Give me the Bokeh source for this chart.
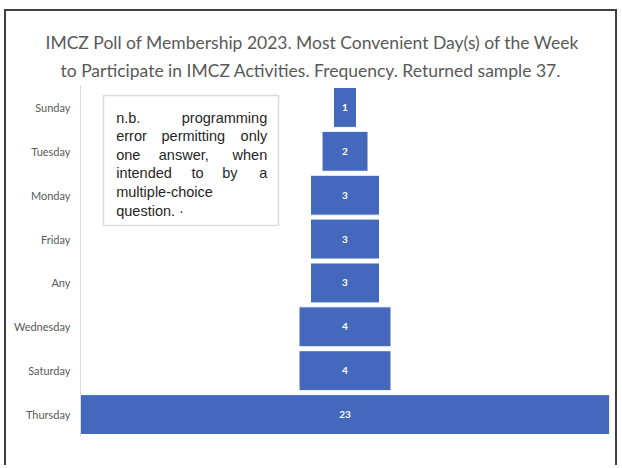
from bokeh.plotting import figure
from bokeh.models import FactorRange, Range1d, Label, BoxAnnotation, ColumnDataSource, Title
from bokeh.core.properties import value
from bokeh.embed import file_html
from bokeh.resources import INLINE

# ---- data ----
days = ["Sunday", "Tuesday", "Monday", "Friday", "Any", "Wednesday", "Saturday", "Thursday"]
counts = [1, 2, 3, 3, 3, 4, 4, 23]
title_lines = [
    "IMCZ Poll of Membership 2023. Most Convenient Day(s) of the Week",
    "to Participate in IMCZ Activities. Frequency. Returned sample 37.",
]
note_lines = [
    ["n.b.", "programming"],
    ["error", "permitting", "only"],
    ["one", "answer,", "when"],
    ["intended", "to", "by", "a"],
    ["multiple-choice"],
    ["question. \u00b7"],
]

BAR = "#4468BC"
GRAY = "#595959"

# page layout (content origin at page x=6, y=11)
OX, OY = 6, 11
W, H = 613, 456
FL, FT, FR, FB = 80, 85, 609, 436   # frame edges in page pixels

src = ColumnDataSource(dict(
    day=days,
    left=[-c / 2 for c in counts],
    right=[c / 2 for c in counts],
    label=[str(c) for c in counts],
    zero=[0] * len(counts),
))

p = figure(
    width=W, height=H, title=None,
    y_range=FactorRange(factors=days[::-1], range_padding=0),
    x_range=Range1d(-11.5, 11.5),
    output_backend="svg", toolbar_location=None,
    min_border_left=FL - OX, min_border_right=(OX + W) - FR,
    min_border_top=FT - OY, min_border_bottom=(OY + H) - FB,
)
p.outline_line_color = None
p.grid.visible = False
p.xaxis.visible = False
p.yaxis.axis_line_color = "#d9d9d9"
p.yaxis.major_tick_line_color = None
p.yaxis.minor_tick_line_color = None
p.yaxis.major_tick_out = 0
p.yaxis.major_label_standoff = 10
p.yaxis.major_label_text_font = "Lato"
p.yaxis.major_label_text_font_size = "11px"
p.yaxis.major_label_text_color = GRAY

p.hbar(y="day", left="left", right="right", height=0.91, source=src,
       fill_color=BAR, line_color="white", line_width=1)
p.text(x="zero", y="day", text="label", source=src,
       text_align="center", text_baseline="middle",
       text_color="white", text_font=value("Lato"), text_font_size="10px",
       text_font_style="bold")

# title: two lines, left-anchored relative to frame left
title_left = [45, 60]
title_standoff = [0, 10]
for i in (1, 0):
    p.add_layout(Title(text=title_lines[i], align="left", offset=title_left[i] - FL,
                       standoff=title_standoff[i], vertical_align="bottom",
                       text_font="Lato", text_font_size="17.5px",
                       text_font_style="normal", text_color=GRAY), "above")

# note box
p.add_layout(BoxAnnotation(left=103 - FL, right=278 - FL, bottom=FB - 225, top=FB - 95,
                           left_units="screen", right_units="screen",
                           bottom_units="screen", top_units="screen",
                           fill_color="white", fill_alpha=1,
                           line_color="#8c8c8c", line_width=1.5))

TL, TR = 115.7, 266.7
mid_starts = {(1, 1): 161, (2, 1): 158.3, (3, 1): 191, (3, 2): 221.7}
for i, words in enumerate(note_lines):
    yc = 117 + 18.6 * i
    n = len(words)
    for j, w in enumerate(words):
        if j == 0:
            x, align = TL, "left"
        elif j == n - 1:
            x, align = TR, "right"
        else:
            x, align = mid_starts[(i, j)], "left"
        p.add_layout(Label(x=x - FL, y=FB - yc, x_units="screen", y_units="screen",
                           text=w, text_align=align, text_baseline="middle",
                           text_font="Liberation Sans", text_font_size="14.5px",
                           text_color="#262626"))

p.styles = {
    "margin-left": "4px",
    "margin-top": "9px",
    "border-top": "2px solid #404040",
    "border-left": "2px solid #404040",
    "border-right": "2px solid #404040",
}

open("out.html", "w").write(file_html(p, INLINE))
